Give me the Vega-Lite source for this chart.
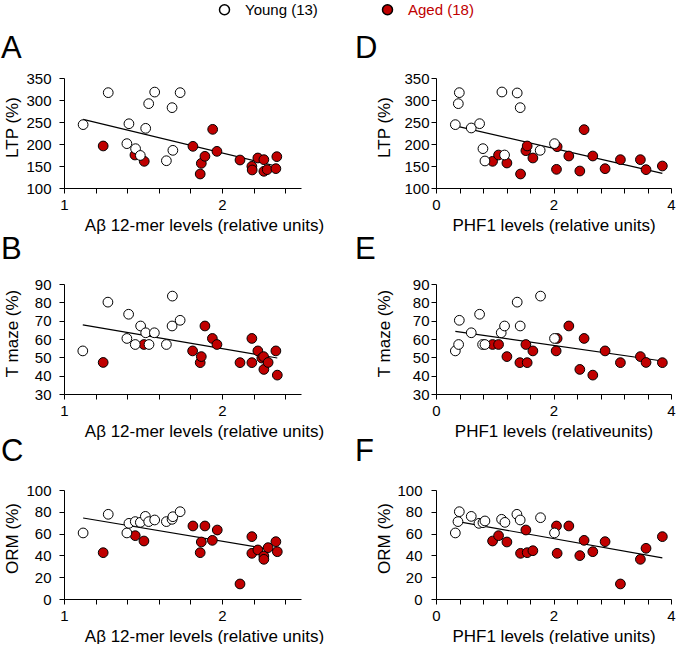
{
"$schema": "https://vega.github.io/schema/vega-lite/v6.json",
"padding": {"left": 1, "top": 2, "right": 0, "bottom": 0},
"background": "white",
"config": {
  "view": {"stroke": null},
  "font": "Liberation Sans",
  "title": {"font": "Liberation Sans", "fontSize": 31, "fontWeight": "normal", "color": "black", "anchor": "start", "frame": "group"},
  "axis": {"domainColor": "black", "tickColor": "black", "labelColor": "black", "titleColor": "black", "grid": false, "tickSize": 5, "labelFontSize": 15, "titleFontSize": 17, "titleFontWeight": "normal", "labelFont": "Liberation Sans", "titleFont": "Liberation Sans", "domainWidth": 1, "tickWidth": 1, "labelFlush": false, "labelOverlap": false},
  "axisX": {"labelPadding": 4, "titlePadding": 5},
  "axisY": {"titleX": -43, "labelPadding": 8},
  "text": {"font": "Liberation Sans", "fontSize": 13, "color": "black"}
},
"datasets": {
  "stats": [
    {"panel": "A", "r2": "r² = 0.3084", "p": "p = 0.0012"},
    {"panel": "B", "r2": "r² = 0.2430", "p": "p = 0.0048"},
    {"panel": "C", "r2": "r² = 0.3349", "p": "p = 0.0006"},
    {"panel": "D", "r2": "r² = 0.2842", "p": "p = 0.0020"},
    {"panel": "E", "r2": "r² = 0.1917", "p": "p = 0.0138"},
    {"panel": "F", "r2": "r² = 0.3717", "p": "p = 0.0003"}
  ],
  "pts": [
    {"panel":"A","group":"Aged (18)","x":1.248,"y":195.5},{"panel":"A","group":"Aged (18)","x":1.449,"y":175},{"panel":"A","group":"Aged (18)","x":1.508,"y":160.6},{"panel":"A","group":"Aged (18)","x":1.816,"y":194.7},{"panel":"A","group":"Aged (18)","x":1.862,"y":131.8},{"panel":"A","group":"Aged (18)","x":1.869,"y":156},{"panel":"A","group":"Aged (18)","x":1.892,"y":172},{"panel":"A","group":"Aged (18)","x":1.941,"y":233.3},{"panel":"A","group":"Aged (18)","x":1.968,"y":183.3},{"panel":"A","group":"Aged (18)","x":2.114,"y":163.6},{"panel":"A","group":"Aged (18)","x":2.189,"y":149.2},{"panel":"A","group":"Aged (18)","x":2.191,"y":141},{"panel":"A","group":"Aged (18)","x":2.227,"y":168.2},{"panel":"A","group":"Aged (18)","x":2.265,"y":164.4},{"panel":"A","group":"Aged (18)","x":2.265,"y":137.9},{"panel":"A","group":"Aged (18)","x":2.286,"y":141.7},{"panel":"A","group":"Aged (18)","x":2.341,"y":144},{"panel":"A","group":"Aged (18)","x":2.347,"y":171.2},
    {"panel":"A","group":"Young (13)","x":1.121,"y":244},{"panel":"A","group":"Young (13)","x":1.28,"y":316.7},{"panel":"A","group":"Young (13)","x":1.411,"y":246},{"panel":"A","group":"Young (13)","x":1.517,"y":235.6},{"panel":"A","group":"Young (13)","x":1.398,"y":200.8},{"panel":"A","group":"Young (13)","x":1.453,"y":189.4},{"panel":"A","group":"Young (13)","x":1.483,"y":174},{"panel":"A","group":"Young (13)","x":1.536,"y":291.7},{"panel":"A","group":"Young (13)","x":1.574,"y":318},{"panel":"A","group":"Young (13)","x":1.648,"y":162},{"panel":"A","group":"Young (13)","x":1.689,"y":185.6},{"panel":"A","group":"Young (13)","x":1.684,"y":282.6},{"panel":"A","group":"Young (13)","x":1.735,"y":316.7},
    {"panel":"B","group":"Aged (18)","x":1.248,"y":47.2},{"panel":"B","group":"Aged (18)","x":1.506,"y":57},{"panel":"B","group":"Aged (18)","x":1.814,"y":53.5},{"panel":"B","group":"Aged (18)","x":1.862,"y":47.1},{"panel":"B","group":"Aged (18)","x":1.869,"y":50.4},{"panel":"B","group":"Aged (18)","x":1.892,"y":67.1},{"panel":"B","group":"Aged (18)","x":1.939,"y":60.3},{"panel":"B","group":"Aged (18)","x":1.968,"y":57},{"panel":"B","group":"Aged (18)","x":2.114,"y":47.1},{"panel":"B","group":"Aged (18)","x":2.189,"y":60.3},{"panel":"B","group":"Aged (18)","x":2.189,"y":47.1},{"panel":"B","group":"Aged (18)","x":2.227,"y":53.5},{"panel":"B","group":"Aged (18)","x":2.252,"y":49.6},{"panel":"B","group":"Aged (18)","x":2.263,"y":50.4},{"panel":"B","group":"Aged (18)","x":2.265,"y":43.4},{"panel":"B","group":"Aged (18)","x":2.292,"y":47.2},{"panel":"B","group":"Aged (18)","x":2.341,"y":53.5},{"panel":"B","group":"Aged (18)","x":2.35,"y":40.3},
    {"panel":"B","group":"Young (13)","x":1.119,"y":53.5},{"panel":"B","group":"Young (13)","x":1.278,"y":80.1},{"panel":"B","group":"Young (13)","x":1.409,"y":73.5},{"panel":"B","group":"Young (13)","x":1.398,"y":60.3},{"panel":"B","group":"Young (13)","x":1.451,"y":57},{"panel":"B","group":"Young (13)","x":1.485,"y":67.1},{"panel":"B","group":"Young (13)","x":1.517,"y":63.4},{"panel":"B","group":"Young (13)","x":1.538,"y":57},{"panel":"B","group":"Young (13)","x":1.572,"y":63.4},{"panel":"B","group":"Young (13)","x":1.648,"y":57},{"panel":"B","group":"Young (13)","x":1.686,"y":83.4},{"panel":"B","group":"Young (13)","x":1.684,"y":67.1},{"panel":"B","group":"Young (13)","x":1.735,"y":70.2},
    {"panel":"C","group":"Aged (18)","x":1.248,"y":42.5},{"panel":"C","group":"Aged (18)","x":1.451,"y":58.1},{"panel":"C","group":"Aged (18)","x":1.506,"y":53.2},{"panel":"C","group":"Aged (18)","x":1.816,"y":67},{"panel":"C","group":"Aged (18)","x":1.862,"y":42.5},{"panel":"C","group":"Aged (18)","x":1.869,"y":52.3},{"panel":"C","group":"Aged (18)","x":1.892,"y":67},{"panel":"C","group":"Aged (18)","x":1.939,"y":53.8},{"panel":"C","group":"Aged (18)","x":1.97,"y":63.3},{"panel":"C","group":"Aged (18)","x":2.114,"y":13.8},{"panel":"C","group":"Aged (18)","x":2.189,"y":57.2},{"panel":"C","group":"Aged (18)","x":2.189,"y":41.9},{"panel":"C","group":"Aged (18)","x":2.227,"y":45},{"panel":"C","group":"Aged (18)","x":2.265,"y":39.4},{"panel":"C","group":"Aged (18)","x":2.265,"y":36.4},{"panel":"C","group":"Aged (18)","x":2.292,"y":47.1},{"panel":"C","group":"Aged (18)","x":2.341,"y":52.6},{"panel":"C","group":"Aged (18)","x":2.35,"y":43.4},
    {"panel":"C","group":"Young (13)","x":1.121,"y":60.6},{"panel":"C","group":"Young (13)","x":1.28,"y":77.7},{"panel":"C","group":"Young (13)","x":1.398,"y":60.6},{"panel":"C","group":"Young (13)","x":1.411,"y":69.4},{"panel":"C","group":"Young (13)","x":1.451,"y":71},{"panel":"C","group":"Young (13)","x":1.483,"y":70.3},{"panel":"C","group":"Young (13)","x":1.515,"y":75.8},{"panel":"C","group":"Young (13)","x":1.536,"y":71},{"panel":"C","group":"Young (13)","x":1.574,"y":72.5},{"panel":"C","group":"Young (13)","x":1.648,"y":71},{"panel":"C","group":"Young (13)","x":1.684,"y":73.1},{"panel":"C","group":"Young (13)","x":1.689,"y":75.5},{"panel":"C","group":"Young (13)","x":1.735,"y":80.1},
    {"panel":"D","group":"Aged (18)","x":0.963,"y":160.6},{"panel":"D","group":"Aged (18)","x":1.065,"y":175},{"panel":"D","group":"Aged (18)","x":1.207,"y":156.8},{"panel":"D","group":"Aged (18)","x":1.439,"y":131.8},{"panel":"D","group":"Aged (18)","x":1.53,"y":184.8},{"panel":"D","group":"Aged (18)","x":1.552,"y":195.5},{"panel":"D","group":"Aged (18)","x":1.649,"y":168.2},{"panel":"D","group":"Aged (18)","x":2.051,"y":142.4},{"panel":"D","group":"Aged (18)","x":2.062,"y":193.9},{"panel":"D","group":"Aged (18)","x":2.261,"y":172.7},{"panel":"D","group":"Aged (18)","x":2.448,"y":138.6},{"panel":"D","group":"Aged (18)","x":2.521,"y":232.6},{"panel":"D","group":"Aged (18)","x":2.669,"y":172.7},{"panel":"D","group":"Aged (18)","x":2.878,"y":143.9},{"panel":"D","group":"Aged (18)","x":3.139,"y":164.4},{"panel":"D","group":"Aged (18)","x":3.479,"y":164.4},{"panel":"D","group":"Aged (18)","x":3.575,"y":141.7},{"panel":"D","group":"Aged (18)","x":3.853,"y":150},
    {"panel":"D","group":"Young (13)","x":0.329,"y":244},{"panel":"D","group":"Young (13)","x":0.397,"y":316.7},{"panel":"D","group":"Young (13)","x":0.38,"y":291.7},{"panel":"D","group":"Young (13)","x":0.6,"y":236.4},{"panel":"D","group":"Young (13)","x":0.742,"y":246.2},{"panel":"D","group":"Young (13)","x":0.799,"y":189.4},{"panel":"D","group":"Young (13)","x":0.833,"y":161.4},{"panel":"D","group":"Young (13)","x":1.122,"y":318.2},{"panel":"D","group":"Young (13)","x":1.167,"y":175},{"panel":"D","group":"Young (13)","x":1.382,"y":316},{"panel":"D","group":"Young (13)","x":1.433,"y":282.6},{"panel":"D","group":"Young (13)","x":1.773,"y":185.6},{"panel":"D","group":"Young (13)","x":2.017,"y":200.8},
    {"panel":"E","group":"Aged (18)","x":0.963,"y":57},{"panel":"E","group":"Aged (18)","x":1.065,"y":57},{"panel":"E","group":"Aged (18)","x":1.207,"y":50.4},{"panel":"E","group":"Aged (18)","x":1.428,"y":47.1},{"panel":"E","group":"Aged (18)","x":1.53,"y":57},{"panel":"E","group":"Aged (18)","x":1.552,"y":47.1},{"panel":"E","group":"Aged (18)","x":1.649,"y":53.5},{"panel":"E","group":"Aged (18)","x":2.045,"y":53.5},{"panel":"E","group":"Aged (18)","x":2.062,"y":60.3},{"panel":"E","group":"Aged (18)","x":2.261,"y":67.1},{"panel":"E","group":"Aged (18)","x":2.448,"y":43.4},{"panel":"E","group":"Aged (18)","x":2.521,"y":60.3},{"panel":"E","group":"Aged (18)","x":2.669,"y":40.3},{"panel":"E","group":"Aged (18)","x":2.878,"y":53.5},{"panel":"E","group":"Aged (18)","x":3.139,"y":47.1},{"panel":"E","group":"Aged (18)","x":3.479,"y":50.4},{"panel":"E","group":"Aged (18)","x":3.575,"y":47.2},{"panel":"E","group":"Aged (18)","x":3.853,"y":47.1},
    {"panel":"E","group":"Young (13)","x":0.329,"y":53.5},{"panel":"E","group":"Young (13)","x":0.397,"y":70.2},{"panel":"E","group":"Young (13)","x":0.385,"y":57},{"panel":"E","group":"Young (13)","x":0.6,"y":63.4},{"panel":"E","group":"Young (13)","x":0.742,"y":73.5},{"panel":"E","group":"Young (13)","x":0.793,"y":57},{"panel":"E","group":"Young (13)","x":0.833,"y":57},{"panel":"E","group":"Young (13)","x":1.11,"y":63.4},{"panel":"E","group":"Young (13)","x":1.167,"y":67.1},{"panel":"E","group":"Young (13)","x":1.382,"y":80.1},{"panel":"E","group":"Young (13)","x":1.433,"y":67.1},{"panel":"E","group":"Young (13)","x":1.779,"y":83.4},{"panel":"E","group":"Young (13)","x":2.017,"y":60.3},
    {"panel":"F","group":"Aged (18)","x":0.963,"y":53.2},{"panel":"F","group":"Aged (18)","x":1.065,"y":58.1},{"panel":"F","group":"Aged (18)","x":1.207,"y":52.3},{"panel":"F","group":"Aged (18)","x":1.439,"y":41.9},{"panel":"F","group":"Aged (18)","x":1.53,"y":63.3},{"panel":"F","group":"Aged (18)","x":1.552,"y":42.5},{"panel":"F","group":"Aged (18)","x":1.649,"y":44.3},{"panel":"F","group":"Aged (18)","x":2.051,"y":67},{"panel":"F","group":"Aged (18)","x":2.062,"y":41.9},{"panel":"F","group":"Aged (18)","x":2.261,"y":67},{"panel":"F","group":"Aged (18)","x":2.448,"y":39.8},{"panel":"F","group":"Aged (18)","x":2.521,"y":53.8},{"panel":"F","group":"Aged (18)","x":2.669,"y":43.4},{"panel":"F","group":"Aged (18)","x":2.878,"y":52.6},{"panel":"F","group":"Aged (18)","x":3.139,"y":13.8},{"panel":"F","group":"Aged (18)","x":3.479,"y":36.4},{"panel":"F","group":"Aged (18)","x":3.575,"y":46.5},{"panel":"F","group":"Aged (18)","x":3.853,"y":57.2},
    {"panel":"F","group":"Young (13)","x":0.329,"y":60.6},{"panel":"F","group":"Young (13)","x":0.397,"y":80.1},{"panel":"F","group":"Young (13)","x":0.374,"y":71},{"panel":"F","group":"Young (13)","x":0.6,"y":75.8},{"panel":"F","group":"Young (13)","x":0.731,"y":69.4},{"panel":"F","group":"Young (13)","x":0.799,"y":70},{"panel":"F","group":"Young (13)","x":0.833,"y":71.6},{"panel":"F","group":"Young (13)","x":1.116,"y":73.1},{"panel":"F","group":"Young (13)","x":1.173,"y":70.3},{"panel":"F","group":"Young (13)","x":1.377,"y":77.7},{"panel":"F","group":"Young (13)","x":1.433,"y":72.5},{"panel":"F","group":"Young (13)","x":1.779,"y":74.6},{"panel":"F","group":"Young (13)","x":2.017,"y":60.6}
  ]
},
"columns": 2,
"bounds": "flush",
"spacing": {"row": 96, "column": 135},
"resolve": {"scale": {"x": "independent", "y": "independent"}},
"concat": [
  {
    "width": 237, "height": 110,
    "title": {"text": "A", "dx": -63, "offset": 6},
    "data": {"name": "pts"},
    "transform": [{"filter": "datum.panel === 'A'"}],
    "encoding": {
      "x": {"field": "x", "type": "quantitative", "title": "Aβ 12-mer levels (relative units)", "scale": {"domain": [1, 2.5], "nice": false, "zero": false}, "axis": {"values": [1, 1.2, 1.4, 1.6, 1.8, 2, 2.2, 2.4], "labelExpr": "datum.value === 1 || datum.value === 2 ? datum.value + '' : ''", "labelOverlap": false, "titleX": 140}},
      "y": {"field": "y", "type": "quantitative", "title": "LTP (%)", "scale": {"domain": [100, 350], "nice": false, "zero": false}, "axis": {"values": [100, 150, 200, 250, 300, 350], "labelOverlap": false, "titleY": 49}}
    },
    "layer": [
      {"transform": [{"regression": "y", "on": "x"}], "mark": {"type": "line", "color": "black", "strokeWidth": 1.2}},
      {"mark": {"type": "circle", "size": 95, "opacity": 1, "stroke": "black", "strokeWidth": 1},
       "encoding": {
         "fill": {"field": "group", "type": "nominal", "scale": {"domain": ["Young (13)", "Aged (18)"], "range": ["white", "#c00000"]},
           "legend": {"orient": "none", "legendX": 153, "legendY": -76, "direction": "horizontal", "title": null, "labelFontSize": 15, "labelFont": "Liberation Sans", "symbolType": "circle", "symbolSize": 100, "symbolStrokeColor": "black", "symbolStrokeWidth": 1.5, "labelOffset": 13, "columnPadding": 61, "labelColor": {"expr": "datum.value === 'Aged (18)' ? '#c00000' : 'black'"}}}
       }},
      {"data": {"name": "stats"}, "transform": [{"filter": "datum.panel === 'A'"}],
       "mark": {"type": "text", "align": "right", "baseline": "middle", "dx": 2, "dy": -4},
       "encoding": {"x": {"datum": 2.5}, "y": {"datum": 350}, "text": {"field": "r2"}}},
      {"data": {"name": "stats"}, "transform": [{"filter": "datum.panel === 'A'"}],
       "mark": {"type": "text", "align": "right", "baseline": "middle", "dx": 2, "dy": 11},
       "encoding": {"x": {"datum": 2.5}, "y": {"datum": 350}, "text": {"field": "p"}}}
    ]
  },
  {
    "width": 235, "height": 110,
    "title": {"text": "D", "dx": -81, "offset": 6},
    "data": {"name": "pts"},
    "transform": [{"filter": "datum.panel === 'D'"}],
    "encoding": {
      "x": {"field": "x", "type": "quantitative", "title": "PHF1 levels (relative units)", "scale": {"domain": [0, 4], "nice": false, "zero": false}, "axis": {"values": [0, 0.4, 0.8, 1.2, 1.6, 2, 2.4, 2.8, 3.2, 3.6, 4], "labelExpr": "datum.value === 0 || datum.value === 2 || datum.value === 4 ? datum.value + '' : ''", "labelOverlap": false}},
      "y": {"field": "y", "type": "quantitative", "title": "LTP (%)", "scale": {"domain": [100, 350], "nice": false, "zero": false}, "axis": {"values": [100, 150, 200, 250, 300, 350], "labelOverlap": false, "titleY": 49, "labelPadding": 2}}
    },
    "layer": [
      {"transform": [{"regression": "y", "on": "x"}], "mark": {"type": "line", "color": "black", "strokeWidth": 1.2}},
      {"mark": {"type": "circle", "size": 95, "opacity": 1, "stroke": "black", "strokeWidth": 1},
       "encoding": {"fill": {"field": "group", "type": "nominal", "scale": {"domain": ["Young (13)", "Aged (18)"], "range": ["white", "#c00000"]}}}},
      {"data": {"name": "stats"}, "transform": [{"filter": "datum.panel === 'D'"}],
       "mark": {"type": "text", "align": "right", "baseline": "middle", "dx": -8, "dy": -4},
       "encoding": {"x": {"datum": 4}, "y": {"datum": 350}, "text": {"field": "r2"}}},
      {"data": {"name": "stats"}, "transform": [{"filter": "datum.panel === 'D'"}],
       "mark": {"type": "text", "align": "right", "baseline": "middle", "dx": -8, "dy": 11},
       "encoding": {"x": {"datum": 4}, "y": {"datum": 350}, "text": {"field": "p"}}}
    ]
  },
  {
    "width": 237, "height": 110,
    "title": {"text": "B", "dx": -63, "offset": 11},
    "data": {"name": "pts"},
    "transform": [{"filter": "datum.panel === 'B'"}],
    "encoding": {
      "x": {"field": "x", "type": "quantitative", "title": "Aβ 12-mer levels (relative units)", "scale": {"domain": [1, 2.5], "nice": false, "zero": false}, "axis": {"values": [1, 1.2, 1.4, 1.6, 1.8, 2, 2.2, 2.4], "labelExpr": "datum.value === 1 || datum.value === 2 ? datum.value + '' : ''", "labelOverlap": false, "titleX": 140}},
      "y": {"field": "y", "type": "quantitative", "title": "T maze (%)", "scale": {"domain": [30, 90], "nice": false, "zero": false}, "axis": {"values": [30, 40, 50, 60, 70, 80, 90], "labelOverlap": false, "titleY": 49}}
    },
    "layer": [
      {"transform": [{"regression": "y", "on": "x"}], "mark": {"type": "line", "color": "black", "strokeWidth": 1.2}},
      {"mark": {"type": "circle", "size": 95, "opacity": 1, "stroke": "black", "strokeWidth": 1},
       "encoding": {"fill": {"field": "group", "type": "nominal", "scale": {"domain": ["Young (13)", "Aged (18)"], "range": ["white", "#c00000"]}}}},
      {"data": {"name": "stats"}, "transform": [{"filter": "datum.panel === 'B'"}],
       "mark": {"type": "text", "align": "right", "baseline": "middle", "dx": 2, "dy": -4},
       "encoding": {"x": {"datum": 2.5}, "y": {"datum": 90}, "text": {"field": "r2"}}},
      {"data": {"name": "stats"}, "transform": [{"filter": "datum.panel === 'B'"}],
       "mark": {"type": "text", "align": "right", "baseline": "middle", "dx": 2, "dy": 11},
       "encoding": {"x": {"datum": 2.5}, "y": {"datum": 90}, "text": {"field": "p"}}}
    ]
  },
  {
    "width": 235, "height": 110,
    "title": {"text": "E", "dx": -81, "offset": 11},
    "data": {"name": "pts"},
    "transform": [{"filter": "datum.panel === 'E'"}],
    "encoding": {
      "x": {"field": "x", "type": "quantitative", "title": "PHF1 levels (relativeunits)", "scale": {"domain": [0, 4], "nice": false, "zero": false}, "axis": {"values": [0, 0.4, 0.8, 1.2, 1.6, 2, 2.4, 2.8, 3.2, 3.6, 4], "labelExpr": "datum.value === 0 || datum.value === 2 || datum.value === 4 ? datum.value + '' : ''", "labelOverlap": false}},
      "y": {"field": "y", "type": "quantitative", "title": "T maze (%)", "scale": {"domain": [30, 90], "nice": false, "zero": false}, "axis": {"values": [30, 40, 50, 60, 70, 80, 90], "labelOverlap": false, "titleY": 49, "labelPadding": 2}}
    },
    "layer": [
      {"transform": [{"regression": "y", "on": "x"}], "mark": {"type": "line", "color": "black", "strokeWidth": 1.2}},
      {"mark": {"type": "circle", "size": 95, "opacity": 1, "stroke": "black", "strokeWidth": 1},
       "encoding": {"fill": {"field": "group", "type": "nominal", "scale": {"domain": ["Young (13)", "Aged (18)"], "range": ["white", "#c00000"]}}}},
      {"data": {"name": "stats"}, "transform": [{"filter": "datum.panel === 'E'"}],
       "mark": {"type": "text", "align": "right", "baseline": "middle", "dx": -8, "dy": -4},
       "encoding": {"x": {"datum": 4}, "y": {"datum": 90}, "text": {"field": "r2"}}},
      {"data": {"name": "stats"}, "transform": [{"filter": "datum.panel === 'E'"}],
       "mark": {"type": "text", "align": "right", "baseline": "middle", "dx": -8, "dy": 11},
       "encoding": {"x": {"datum": 4}, "y": {"datum": 90}, "text": {"field": "p"}}}
    ]
  },
  {
    "width": 237, "height": 109,
    "title": {"text": "C", "dx": -63, "offset": 15},
    "data": {"name": "pts"},
    "transform": [{"filter": "datum.panel === 'C'"}],
    "encoding": {
      "x": {"field": "x", "type": "quantitative", "title": "Aβ 12-mer levels (relative units)", "scale": {"domain": [1, 2.5], "nice": false, "zero": false}, "axis": {"values": [1, 1.2, 1.4, 1.6, 1.8, 2, 2.2, 2.4], "labelExpr": "datum.value === 1 || datum.value === 2 ? datum.value + '' : ''", "labelOverlap": false, "titleX": 140}},
      "y": {"field": "y", "type": "quantitative", "title": "ORM (%)", "scale": {"domain": [0, 100], "nice": false, "zero": false}, "axis": {"values": [0, 20, 40, 60, 80, 100], "labelOverlap": false, "titleY": 48}}
    },
    "layer": [
      {"transform": [{"regression": "y", "on": "x"}], "mark": {"type": "line", "color": "black", "strokeWidth": 1.2}},
      {"mark": {"type": "circle", "size": 95, "opacity": 1, "stroke": "black", "strokeWidth": 1},
       "encoding": {"fill": {"field": "group", "type": "nominal", "scale": {"domain": ["Young (13)", "Aged (18)"], "range": ["white", "#c00000"]}}}},
      {"data": {"name": "stats"}, "transform": [{"filter": "datum.panel === 'C'"}],
       "mark": {"type": "text", "align": "right", "baseline": "middle", "dx": 2, "dy": -4},
       "encoding": {"x": {"datum": 2.5}, "y": {"datum": 100}, "text": {"field": "r2"}}},
      {"data": {"name": "stats"}, "transform": [{"filter": "datum.panel === 'C'"}],
       "mark": {"type": "text", "align": "right", "baseline": "middle", "dx": 2, "dy": 11},
       "encoding": {"x": {"datum": 2.5}, "y": {"datum": 100}, "text": {"field": "p"}}}
    ]
  },
  {
    "width": 235, "height": 109,
    "title": {"text": "F", "dx": -81, "offset": 15},
    "data": {"name": "pts"},
    "transform": [{"filter": "datum.panel === 'F'"}],
    "encoding": {
      "x": {"field": "x", "type": "quantitative", "title": "PHF1 levels (relative units)", "scale": {"domain": [0, 4], "nice": false, "zero": false}, "axis": {"values": [0, 0.4, 0.8, 1.2, 1.6, 2, 2.4, 2.8, 3.2, 3.6, 4], "labelExpr": "datum.value === 0 || datum.value === 2 || datum.value === 4 ? datum.value + '' : ''", "labelOverlap": false}},
      "y": {"field": "y", "type": "quantitative", "title": "ORM (%)", "scale": {"domain": [0, 100], "nice": false, "zero": false}, "axis": {"values": [0, 20, 40, 60, 80, 100], "labelOverlap": false, "titleY": 48, "labelPadding": 9}}
    },
    "layer": [
      {"transform": [{"regression": "y", "on": "x"}], "mark": {"type": "line", "color": "black", "strokeWidth": 1.2}},
      {"mark": {"type": "circle", "size": 95, "opacity": 1, "stroke": "black", "strokeWidth": 1},
       "encoding": {"fill": {"field": "group", "type": "nominal", "scale": {"domain": ["Young (13)", "Aged (18)"], "range": ["white", "#c00000"]}}}},
      {"data": {"name": "stats"}, "transform": [{"filter": "datum.panel === 'F'"}],
       "mark": {"type": "text", "align": "right", "baseline": "middle", "dx": -8, "dy": -4},
       "encoding": {"x": {"datum": 4}, "y": {"datum": 100}, "text": {"field": "r2"}}},
      {"data": {"name": "stats"}, "transform": [{"filter": "datum.panel === 'F'"}],
       "mark": {"type": "text", "align": "right", "baseline": "middle", "dx": -8, "dy": 11},
       "encoding": {"x": {"datum": 4}, "y": {"datum": 100}, "text": {"field": "p"}}}
    ]
  }
]
}
